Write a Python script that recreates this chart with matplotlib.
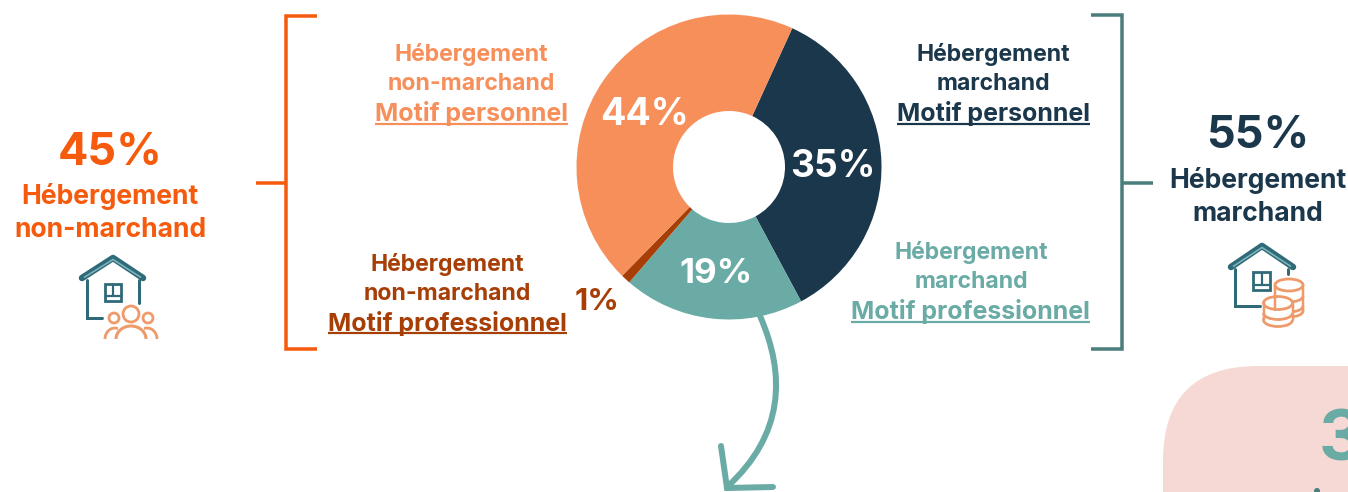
import matplotlib
matplotlib.use("Agg")
import matplotlib.pyplot as plt
from matplotlib.patches import PathPatch, Circle, Ellipse, Arc, FancyBboxPatch, Rectangle
from matplotlib.path import Path

W, H = 1348, 492
categories = ["Marchand personnel", "Marchand professionnel", "Non-marchand professionnel", "Non-marchand personnel"]
values = [35, 19, 1, 44]
slice_colors = ["#1B374B", "#6AABA6", "#A63E06", "#F78F5B"]
ORANGE, NAVY, TEAL, BROWN, SALMON = "#F65A0C", "#1B374B", "#6AABA6", "#A63E06", "#F78F5B"
BR_RIGHT, HOUSE, COIN = "#4A7D7C", "#2F6A78", "#EE9A6A"
FONT = "Inter"

plt.rcParams["font.family"] = [FONT, "DejaVu Sans"]
fig = plt.figure(figsize=(W / 100, H / 100), dpi=100, facecolor="white")

# overlay in pixel coordinates
ax = fig.add_axes([0, 0, 1, 1])
ax.set_xlim(0, W); ax.set_ylim(H, 0); ax.axis("off")

# pie
cx, cy, R = 729, 167, 152.5
pax = fig.add_axes([(cx - R) / W, 1 - (cy + R) / H, 2 * R / W, 2 * R / H], zorder=2)
pax.pie(values, colors=slice_colors, startangle=65.5, counterclock=False, radius=1,
        wedgeprops=dict(width=1 - 56 / R, linewidth=0))
pax.set_xlim(-1, 1); pax.set_ylim(-1, 1); pax.axis("off")

top = fig.add_axes([0, 0, 1, 1], zorder=3)
top.set_xlim(0, W); top.set_ylim(H, 0); top.axis("off"); top.patch.set_alpha(0)

def t(x, y, s, px, color, weight="bold", ha="center", a=None):
    return (a or top).text(x, y, s, fontsize=px * 0.72, color=color, fontweight=weight,
                           ha=ha, va="center", family=[FONT, "DejaVu Sans"])

def line(xs, ys, color, lw=3, a=None, cap="butt", join="miter"):
    (a or top).plot(xs, ys, color=color, lw=lw * 0.72, solid_capstyle=cap, solid_joinstyle=join)

def under(x_right, y_text, s, px, color, y_line):
    tx = t(x_right, y_text, s, px, color, ha="right")
    fig.canvas.draw()
    bb = tx.get_window_extent()
    line([bb.x0, bb.x1], [y_line, y_line], color, lw=2.2)

# brackets
line([317, 286, 286, 317], [16, 16, 349, 349], ORANGE, lw=3.5)
line([256, 286], [183, 183], ORANGE, lw=3.5)
line([1091, 1122, 1122, 1091], [15, 15, 349, 349], BR_RIGHT, lw=3.5)
line([1122, 1153], [183, 183], BR_RIGHT, lw=3.5)

# headline figures
t(110, 153, "45%", 45, ORANGE, "bold")
t(110, 196, "Hébergement", 26.5, ORANGE, "bold")
t(110, 230, "non-marchand", 26.5, ORANGE, "bold")
t(1258, 136, "55%", 45, NAVY, "bold")
t(1258, 180, "Hébergement", 26.5, NAVY, "bold")
t(1258, 214, "marchand", 26.5, NAVY, "bold")

# segment labels
LAB, MOTIF = 23, 25
t(471, 54, "Hébergement", LAB, SALMON)
t(471, 84, "non-marchand", LAB, SALMON)
under(568, 114, "Motif personnel", MOTIF, SALMON, 124)
t(993, 55, "Hébergement", LAB, NAVY)
t(993, 84, "marchand", LAB, NAVY)
under(1090, 114, "Motif personnel", MOTIF, NAVY, 124)
t(447, 264, "Hébergement", LAB, BROWN)
t(447, 294, "non-marchand", LAB, BROWN)
under(567, 323, "Motif professionnel", MOTIF, BROWN, 333)
t(971, 252, "Hébergement", LAB, TEAL)
t(971, 282, "marchand", LAB, TEAL)
under(1090, 312, "Motif professionnel", MOTIF, TEAL, 322)

# percentages on the ring
t(644, 115, f"{values[3]}%", 37.5, "white", "bold")
t(833, 167, f"{values[0]}%", 37, "white", "bold")
t(716, 274, f"{values[1]}%", 35, "white", "bold")
t(597, 302, f"{values[2]}%", 31, BROWN, "bold")

# arrow
arrow = Path([(760, 316), (786, 375), (784, 435), (727, 487)],
             [Path.MOVETO, Path.CURVE4, Path.CURVE4, Path.CURVE4])
top.add_patch(PathPatch(arrow, fc="none", ec=TEAL, lw=6 * 0.72, capstyle="round"))
line([721, 727, 773], [446, 488, 487], TEAL, lw=6, cap="round", join="miter")

# pink card, cut by the picture edge
ax.add_patch(FancyBboxPatch((1258, 461), 300, 300, boxstyle="round,pad=95,rounding_size=95",
                            fc="#F6D8D4", ec="none"))
ax.set_xlim(0, W); ax.set_ylim(H, 0)
top.text(1319, 442, "3", fontsize=50, color=TEAL, fontweight="bold", ha="left", va="center", clip_on=True)
top.add_patch(Circle((1317, 491), 3, fc=BR_RIGHT, ec="none"))

def house(apex, left, right, wall_l, bottom, base_end, wall_r, wall_r_end, win):
    line([left[0], apex[0], right[0]], [left[1], apex[1], right[1]], HOUSE, lw=6.5, cap="round", join="round")
    line([left[0] + 2, apex[0], right[0] - 2], [left[1] - 0.5, apex[1] + 1.5, right[1] - 0.5], "#7FB5BA", lw=1.6)
    line([wall_l, wall_l, base_end], [left[1] + 2, bottom, bottom], HOUSE, lw=3, cap="round")
    line([wall_r, wall_r], [right[1] + 2, wall_r_end], HOUSE, lw=3, cap="round")
    x0, y0, x1, y1 = win
    top.add_patch(Rectangle((x0, y0), x1 - x0, y1 - y0, fc="none", ec=HOUSE, lw=2))
    xm = (x0 + x1) / 2
    line([xm, xm], [y0, y1 - 5], HOUSE, lw=2.2)
    line([x0, x1], [y1 - 5, y1 - 5], HOUSE, lw=2.2)

# left icon
house((113, 258), (82, 278), (143, 278), 87, 318, 102, 139, 303, (105, 284, 121, 301))
for x, y, w, h in [(115, 339, 20, 22), (147, 339, 20, 22)]:
    top.add_patch(Arc((x, y), w, h, theta1=180, theta2=360, ec=COIN, lw=2))
top.add_patch(Rectangle((118, 325), 26, 14, fc="white", ec="none"))
top.add_patch(Arc((131, 339), 30, 26, theta1=180, theta2=360, ec=COIN, lw=2.2))
for x, y, r in [(114, 318, 5), (148, 318, 5), (131, 314, 8)]:
    top.add_patch(Circle((x, y), r, fc="white", ec=COIN, lw=2))

# right icon
house((1262, 246), (1231, 267), (1293, 267), 1235, 306, 1260, 1288, 274, (1253, 272, 1270, 290))
def stack(x, y, w, h, bottom, bands):
    top.add_patch(Rectangle((x - w / 2, y), w, bottom - y, fc="white", ec="none"))
    top.add_patch(Ellipse((x, bottom), w, h, fc="white", ec=COIN, lw=2))
    top.add_patch(Rectangle((x - w / 2 + 1, y), w - 2, bottom - y, fc="white", ec="none"))
    line([x - w / 2, x - w / 2], [y, bottom], COIN, lw=2.5)
    line([x + w / 2, x + w / 2], [y, bottom], COIN, lw=2.5)
    for b in bands:
        top.add_patch(Arc((x, b), w, h, theta1=0, theta2=180, ec=COIN, lw=2))
    top.add_patch(Ellipse((x, y), w, h, fc="white", ec=COIN, lw=2))
stack(1289, 285, 28, 12, 311, [296, 306])
stack(1278, 303, 29, 13, 320, [313])

fig.savefig("out.png", dpi=100)
